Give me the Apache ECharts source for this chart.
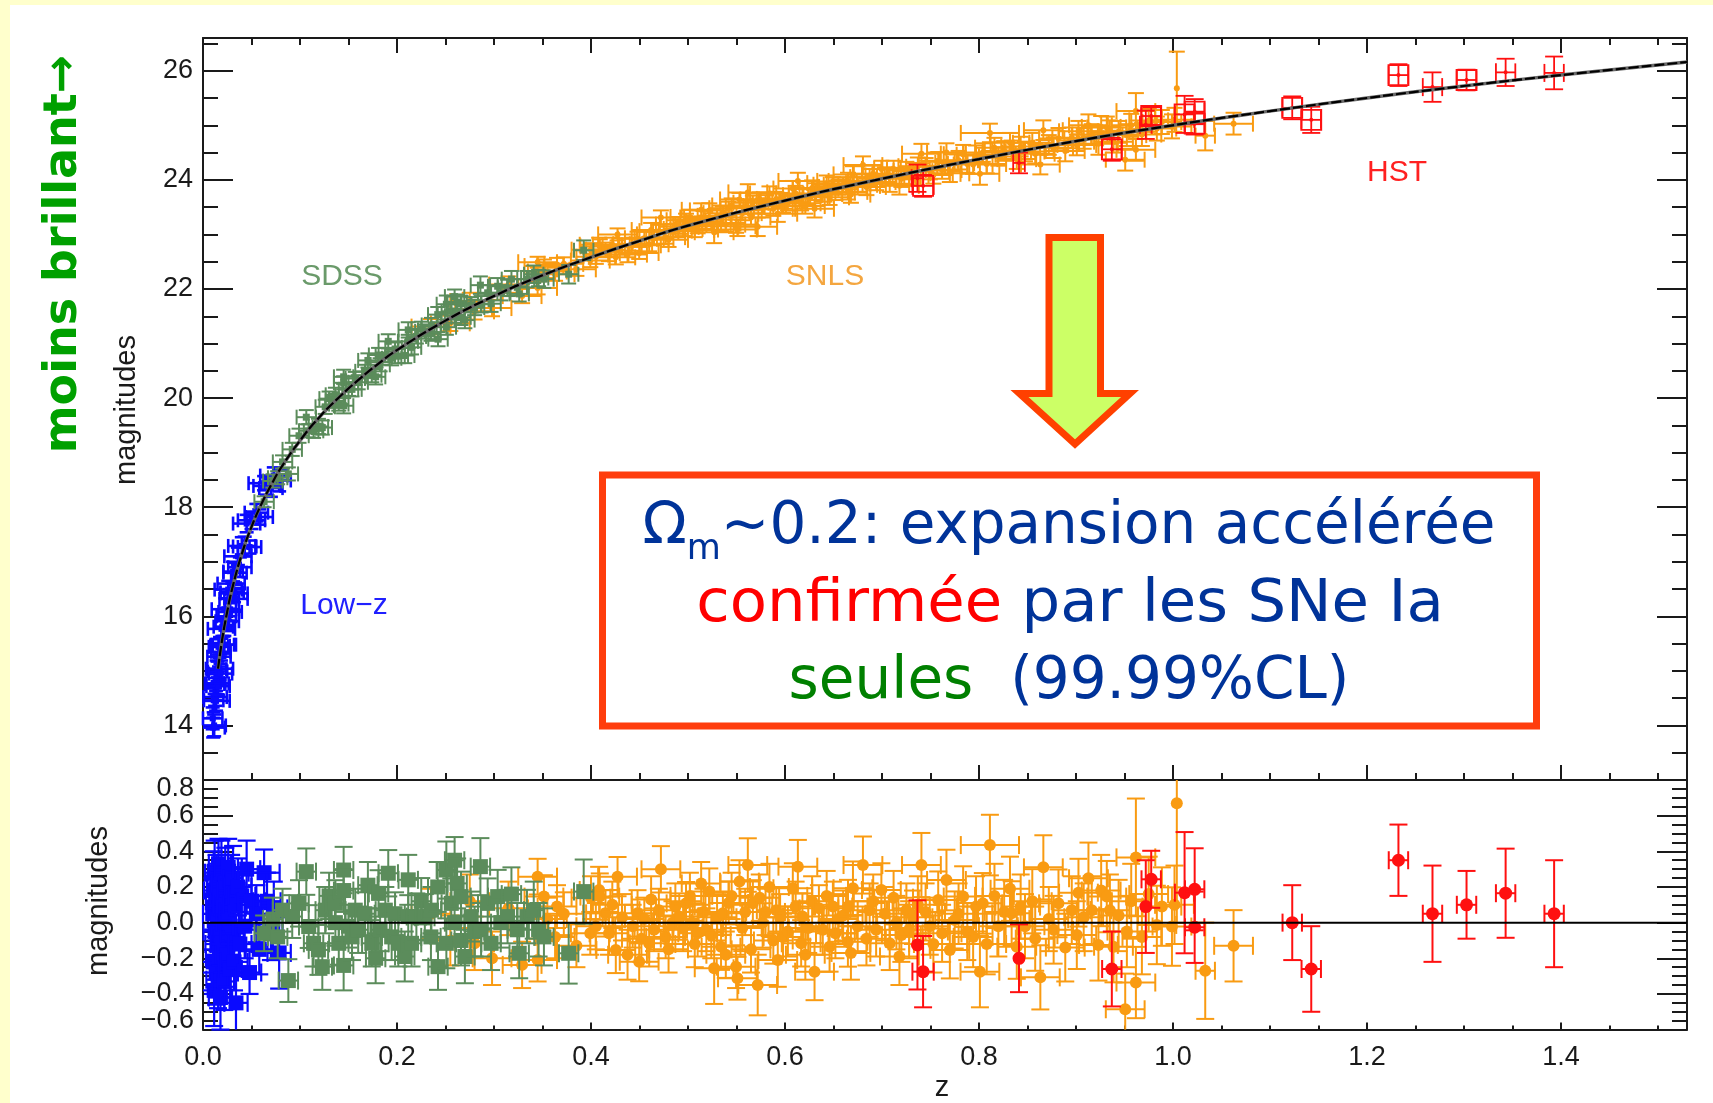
<!DOCTYPE html>
<html><head><meta charset="utf-8">
<script src="https://cdn.jsdelivr.net/npm/echarts@6/dist/echarts.min.js"></script>
<style>html,body{margin:0;padding:0;background:#fff;overflow:hidden}#c{width:1713px;height:1103px}</style>
</head><body><div id="c"></div>
<script>
// ---------------- DATA ----------------
// tick values
const xMajor = [0, 0.2, 0.4, 0.6, 0.8, 1.0, 1.2, 1.4];
const xMinor = [0.05,0.1,0.15,0.25,0.3,0.35,0.45,0.5,0.55,0.65,0.7,0.75,0.85,0.9,0.95,1.05,1.1,1.15,1.25,1.3,1.35,1.45,1.5];
const yMajorTop = [14, 16, 18, 20, 22, 24, 26];
const yMinorTop = [13.5,14.5,15,15.5,16.5,17,17.5,18.5,19,19.5,20.5,21,21.5,22.5,23,23.5,24.5,25,25.5,26.5];
const yMajorRes = [-0.6, -0.4, -0.2, 0, 0.2, 0.4, 0.6, 0.8];
const yLabelRes = [-0.4, -0.2, 0, 0.2, 0.4, 0.6];
const yEdgeLabelRes = [-0.6, 0.8];
const yMinorRes = [-0.55,-0.5,-0.45,-0.35,-0.3,-0.25,-0.15,-0.1,-0.05,0.05,0.1,0.15,0.25,0.3,0.35,0.45,0.5,0.55,0.65,0.7,0.75];

// model curve (z, magnitude)
const curveZ = [0.0155,0.02,0.025,0.03,0.04,0.05,0.06,0.07,0.08,0.1,0.12,0.14,0.16,0.18,0.2,0.25,0.3,0.35,0.4,0.45,0.5,0.6,0.7,0.8,0.9,1.0,1.1,1.2,1.3,1.4,1.53];
const curveM = [15.04,15.60,16.09,16.50,17.14,17.64,18.05,18.40,18.71,19.22,19.65,20.01,20.33,20.62,20.88,21.42,21.87,22.25,22.58,22.88,23.16,23.62,24.02,24.38,24.71,25.00,25.26,25.50,25.72,25.92,26.16];
const zeroLine = [[0, 0], [1.53, 0]];

// each point: [z, magnitude, residual, magnitude error, z error]
const lowz = [
[0.0100,14.13,0.05,0.20,0.010],[0.0105,13.96,-0.22,0.18,0.012],[0.0110,14.46,0.18,0.22,0.010],[0.0115,14.00,-0.38,0.20,0.012],
[0.0120,14.76,0.28,0.18,0.010],[0.0125,14.52,-0.05,0.16,0.012],[0.0130,14.77,0.12,0.20,0.010],[0.0135,14.45,-0.28,0.18,0.014],
[0.0140,15.03,0.22,0.16,0.010],[0.0145,14.77,-0.12,0.20,0.012],[0.0150,14.99,0.02,0.18,0.010],[0.0155,14.72,-0.32,0.16,0.012],
[0.0160,15.44,0.33,0.14,0.010],[0.0165,15.26,0.08,0.18,0.012],[0.0170,15.04,-0.20,0.20,0.014],[0.0175,15.46,0.15,0.16,0.010],
[0.0180,14.95,-0.42,0.18,0.012],[0.0185,15.35,-0.08,0.16,0.010],[0.0190,15.77,0.28,0.18,0.014],[0.0200,15.48,-0.12,0.16,0.012],
[0.0210,15.81,0.10,0.18,0.010],[0.0220,15.48,-0.33,0.16,0.012],[0.0230,16.13,0.22,0.20,0.014],[0.0240,16.00,0.00,0.16,0.010],
[0.0250,15.91,-0.18,0.18,0.012],[0.0260,16.49,0.31,0.16,0.014],[0.0270,16.32,0.06,0.18,0.010],[0.0280,16.08,-0.26,0.16,0.012],
[0.0290,16.60,0.18,0.20,0.014],[0.0300,16.44,-0.06,0.16,0.012],[0.0310,16.82,0.25,0.18,0.010],[0.0320,16.42,-0.22,0.16,0.014],
[0.0330,16.80,0.10,0.18,0.012],[0.0340,16.32,-0.45,0.20,0.012],[0.0360,17.10,0.20,0.16,0.014],[0.0380,16.90,-0.12,0.18,0.012],
[0.0400,17.29,0.15,0.16,0.014],[0.0430,17.28,-0.02,0.18,0.012],[0.0450,17.70,0.30,0.16,0.014],[0.0480,17.27,-0.28,0.12,0.012],
[0.0500,17.76,0.12,0.16,0.014],[0.0550,17.90,0.05,0.16,0.012],[0.0580,17.82,-0.15,0.14,0.014],[0.0630,18.44,0.28,0.13,0.016],
[0.0660,18.39,0.12,0.16,0.014],[0.0700,18.35,-0.05,0.16,0.012],[0.0730,18.58,0.08,0.15,0.014],[0.0785,18.49,-0.17,0.20,0.012]
];

const sdss = [
[0.063,18.10,-0.06,0.10,0.010],[0.072,18.48,0.02,0.12,0.010],[0.077,18.54,-0.08,0.12,0.010],[0.082,18.83,0.07,0.12,0.010],
[0.088,18.61,-0.325,0.12,0.010],[0.092,19.06,0.034,0.12,0.010],[0.099,19.31,0.108,0.13,0.010],[0.1065,19.65,0.286,0.13,0.010],
[0.109,19.40,-0.022,0.12,0.010],[0.114,19.40,-0.116,0.13,0.010],[0.119,19.48,-0.153,0.14,0.010],[0.123,19.46,-0.247,0.13,0.010],
[0.126,19.84,0.07,0.13,0.010],[0.130,19.99,0.15,0.13,0.010],[0.1365,19.95,0.0,0.13,0.010],[0.1365,20.06,0.108,0.13,0.010],
[0.140,19.89,-0.116,0.12,0.010],[0.145,20.39,0.295,0.13,0.010],[0.145,20.28,0.18,0.12,0.010],[0.145,19.86,-0.24,0.14,0.010],
[0.150,20.16,-0.02,0.12,0.010],[0.1536,20.16,-0.08,0.13,0.010],[0.157,20.36,0.07,0.12,0.010],[0.160,20.29,-0.04,0.13,0.010],
[0.167,20.49,0.05,0.12,0.010],[0.170,20.69,0.21,0.13,0.010],[0.174,20.42,-0.116,0.13,0.010],[0.178,20.39,-0.20,0.14,0.010],
[0.181,20.79,0.164,0.13,0.010],[0.1826,20.61,-0.04,0.12,0.010],[0.188,20.79,0.07,0.13,0.010],[0.191,21.04,0.277,0.13,0.010],
[0.1945,20.73,-0.08,0.13,0.010],[0.198,20.90,0.05,0.12,0.010],[0.2014,20.77,-0.116,0.13,0.010],[0.208,20.78,-0.19,0.14,0.010],
[0.2116,21.25,0.24,0.14,0.010],[0.2116,21.04,0.034,0.12,0.010],[0.215,20.93,-0.116,0.13,0.010],[0.220,21.13,0.034,0.13,0.010],
[0.225,21.27,0.12,0.13,0.010],[0.2287,21.22,0.03,0.13,0.010],[0.235,21.18,-0.08,0.13,0.010],[0.2355,21.34,0.07,0.13,0.010],
[0.242,21.53,0.20,0.14,0.010],[0.2423,21.08,-0.247,0.13,0.010],[0.2509,21.72,0.295,0.16,0.010],[0.2509,21.30,-0.116,0.14,0.010],
[0.256,21.59,0.108,0.14,0.010],[0.2594,21.86,0.35,0.13,0.010],[0.2594,21.51,0.0,0.13,0.010],[0.262,21.76,0.22,0.14,0.010],
[0.266,21.73,0.146,0.14,0.010],[0.266,21.48,-0.10,0.14,0.010],[0.270,21.43,-0.19,0.15,0.010],[0.2765,21.71,0.034,0.14,0.010],
[0.280,21.66,-0.05,0.14,0.010],[0.286,22.07,0.314,0.16,0.010],[0.2867,21.72,-0.04,0.15,0.010],[0.2935,21.93,0.108,0.14,0.010],
[0.297,21.73,-0.116,0.15,0.010],[0.3038,22.05,0.146,0.15,0.010],[0.307,21.93,0.0,0.14,0.010],[0.314,22.02,0.034,0.15,0.010],
[0.318,22.18,0.16,0.15,0.010],[0.324,22.03,-0.04,0.15,0.010],[0.326,21.91,-0.172,0.14,0.010],[0.334,22.18,0.034,0.15,0.010],
[0.341,22.27,0.07,0.16,0.010],[0.346,22.20,-0.04,0.15,0.010],[0.3515,22.18,-0.08,0.16,0.010],[0.377,22.27,-0.172,0.17,0.010],
[0.3925,22.71,0.174,0.18,0.010]
];

const snls = [
[0.235,21.31,0.05,0.14,0.020],[0.255,21.37,-0.10,0.14,0.020],[0.275,21.78,0.12,0.15,0.020],[0.280,21.59,-0.116,0.15,0.020],
[0.298,21.65,-0.20,0.15,0.020],[0.315,22.08,0.08,0.15,0.020],[0.329,21.87,-0.237,0.13,0.020],[0.345,22.49,0.258,0.10,0.020],
[0.345,22.02,-0.21,0.12,0.020],[0.3515,22.42,0.146,0.12,0.020],[0.355,22.32,0.02,0.12,0.020],[0.363,22.27,-0.08,0.12,0.020],
[0.365,22.45,0.09,0.12,0.020],[0.372,22.46,0.05,0.12,0.020],[0.385,22.36,-0.13,0.12,0.020],[0.3993,22.52,-0.06,0.12,0.020],
[0.400,22.72,0.14,0.12,0.020],[0.405,22.59,-0.02,0.13,0.020],[0.4084,22.81,0.183,0.13,0.020],[0.4091,22.78,0.146,0.13,0.020],
[0.415,22.72,0.052,0.13,0.020],[0.4186,22.63,-0.06,0.12,0.020],[0.422,22.81,0.10,0.13,0.020],[0.4256,22.58,-0.153,0.13,0.020],
[0.4274,23.00,0.258,0.11,0.020],[0.432,22.80,0.03,0.13,0.020],[0.4377,22.63,-0.18,0.14,0.020],[0.443,22.82,-0.02,0.12,0.020],
[0.448,22.92,0.052,0.13,0.020],[0.4497,22.66,-0.219,0.11,0.020],[0.452,22.80,-0.09,0.13,0.020],[0.455,22.93,0.02,0.12,0.020],
[0.460,22.82,-0.116,0.13,0.020],[0.462,23.08,0.13,0.13,0.020],[0.465,22.93,-0.04,0.12,0.020],[0.470,23.06,0.07,0.12,0.020],
[0.4721,23.31,0.299,0.13,0.020],[0.477,22.95,-0.08,0.12,0.020],[0.480,22.90,-0.15,0.13,0.020],[0.484,23.07,0.0,0.12,0.020],
[0.487,23.18,0.09,0.13,0.020],[0.491,23.14,0.034,0.13,0.020],[0.495,23.10,-0.03,0.13,0.020],[0.498,23.26,0.108,0.12,0.020],
[0.502,23.32,0.15,0.13,0.020],[0.5049,23.18,0.0,0.12,0.020],[0.507,23.08,-0.12,0.13,0.020],[0.510,23.15,-0.06,0.13,0.020],
[0.5136,23.45,0.22,0.12,0.020],[0.516,23.30,0.06,0.13,0.020],[0.519,23.22,-0.04,0.12,0.020],[0.522,23.44,0.174,0.13,0.020],
[0.524,23.21,-0.07,0.13,0.020],[0.527,23.04,-0.256,0.20,0.020],[0.530,23.34,0.03,0.13,0.020],[0.5341,23.20,-0.135,0.13,0.020],
[0.536,23.39,0.052,0.12,0.020],[0.539,23.18,-0.18,0.13,0.020],[0.542,23.48,0.11,0.12,0.020],[0.545,23.53,0.15,0.13,0.020],
[0.5496,23.15,-0.247,0.12,0.020],[0.551,23.09,-0.312,0.12,0.020],[0.5531,23.64,0.23,0.12,0.020],[0.556,23.39,-0.03,0.13,0.020],
[0.559,23.50,0.06,0.13,0.020],[0.5617,23.77,0.323,0.15,0.020],[0.565,23.31,-0.15,0.13,0.020],[0.5669,23.58,0.108,0.13,0.020],
[0.5719,23.14,-0.35,0.17,0.020],[0.574,23.64,0.14,0.13,0.020],[0.577,23.52,0.0,0.14,0.020],[0.580,23.59,0.06,0.13,0.020],
[0.584,23.75,0.20,0.13,0.020],[0.588,23.47,-0.10,0.13,0.020],[0.591,23.65,0.07,0.13,0.020],[0.5926,23.38,-0.21,0.15,0.020],
[0.595,23.63,0.03,0.13,0.020],[0.598,23.53,-0.08,0.13,0.020],[0.603,23.58,-0.05,0.14,0.020],[0.6081,23.84,0.193,0.14,0.020],
[0.611,23.75,0.09,0.14,0.020],[0.6133,23.98,0.314,0.15,0.020],[0.6167,23.57,-0.116,0.13,0.020],[0.618,23.72,0.034,0.13,0.020],
[0.621,23.52,-0.18,0.14,0.020],[0.624,23.69,-0.03,0.14,0.020],[0.628,23.85,0.12,0.14,0.020],[0.6305,23.47,-0.275,0.16,0.020],
[0.635,23.84,0.08,0.13,0.020],[0.639,23.74,-0.04,0.14,0.020],[0.643,23.94,0.15,0.14,0.020],[0.646,23.68,-0.135,0.14,0.020],
[0.6494,23.91,0.09,0.14,0.020],[0.652,23.77,-0.06,0.14,0.020],[0.655,23.87,0.02,0.14,0.020],[0.660,23.91,0.04,0.14,0.020],
[0.6649,23.78,-0.107,0.14,0.020],[0.665,23.98,0.09,0.15,0.020],[0.668,23.73,-0.17,0.15,0.020],[0.6701,24.10,0.193,0.15,0.020],
[0.675,23.91,-0.02,0.14,0.020],[0.6804,24.27,0.323,0.16,0.020],[0.684,23.87,-0.09,0.15,0.020],[0.6873,24.05,0.07,0.15,0.020],
[0.691,24.11,0.12,0.15,0.020],[0.694,23.96,-0.04,0.15,0.020],[0.6994,24.20,0.183,0.15,0.020],[0.703,24.08,0.05,0.15,0.020],
[0.708,23.93,-0.116,0.15,0.020],[0.712,24.20,0.14,0.15,0.020],[0.7149,24.07,0.0,0.15,0.020],[0.718,23.89,-0.19,0.16,0.020],
[0.720,24.02,-0.07,0.15,0.020],[0.7252,24.18,0.07,0.15,0.020],[0.728,24.08,-0.04,0.16,0.020],[0.732,24.16,0.03,0.15,0.020],
[0.737,24.25,0.10,0.16,0.020],[0.7407,24.48,0.323,0.18,0.020],[0.745,24.24,0.06,0.16,0.020],[0.7493,24.17,-0.02,0.16,0.020],
[0.753,24.09,-0.12,0.16,0.020],[0.758,24.35,0.127,0.16,0.020],[0.762,24.18,-0.06,0.16,0.020],[0.7665,24.50,0.239,0.17,0.020],
[0.770,24.12,-0.153,0.16,0.020],[0.775,24.31,0.015,0.16,0.020],[0.779,24.36,0.05,0.17,0.020],[0.7837,24.47,0.146,0.17,0.020],
[0.788,24.29,-0.05,0.16,0.020],[0.794,24.28,-0.08,0.17,0.020],[0.797,24.46,0.09,0.17,0.020],[0.801,24.11,-0.275,0.20,0.020],
[0.804,24.50,0.108,0.17,0.020],[0.808,24.29,-0.12,0.17,0.020],[0.8113,24.86,0.435,0.17,0.030],[0.816,24.59,0.15,0.18,0.020],
[0.820,24.43,-0.02,0.17,0.020],[0.826,24.53,0.06,0.18,0.020],[0.832,24.68,0.19,0.18,0.020],[0.8337,24.54,0.052,0.18,0.020],
[0.839,24.38,-0.135,0.18,0.020],[0.843,24.61,0.09,0.18,0.020],[0.8475,24.52,-0.02,0.18,0.020],[0.855,24.68,0.12,0.18,0.020],
[0.858,24.48,-0.09,0.18,0.020],[0.8633,24.28,-0.307,0.18,0.020],[0.8664,24.91,0.31,0.18,0.020],[0.872,24.64,0.02,0.18,0.020],
[0.877,24.59,-0.04,0.19,0.020],[0.882,24.76,0.108,0.19,0.020],[0.889,24.53,-0.14,0.19,0.020],[0.8957,24.77,0.07,0.19,0.020],
[0.9009,24.64,-0.07,0.19,0.020],[0.9026,24.89,0.168,0.19,0.020],[0.908,24.76,0.03,0.19,0.020],[0.9129,25.00,0.249,0.20,0.020],
[0.9163,24.83,0.07,0.19,0.020],[0.9232,24.66,-0.125,0.20,0.020],[0.926,24.97,0.18,0.20,0.020],[0.9318,24.96,0.146,0.20,0.020],
[0.935,24.89,0.07,0.20,0.020],[0.9387,24.70,-0.135,0.20,0.020],[0.944,24.88,0.04,0.20,0.020],[0.9508,24.37,-0.486,0.20,0.020],
[0.9525,24.82,-0.05,0.20,0.020],[0.957,25.00,0.12,0.21,0.020],[0.9618,25.26,0.366,0.33,0.020],[0.9618,24.55,-0.336,0.20,0.020],
[0.968,24.83,-0.08,0.21,0.020],[0.975,25.09,0.16,0.21,0.020],[0.9834,24.94,-0.013,0.22,0.020],[0.9886,25.06,0.09,0.22,0.020],
[0.999,24.98,-0.022,0.22,0.020],[1.0016,25.10,0.10,0.22,0.020],[1.004,25.68,0.669,0.67,0.005],[1.0333,24.81,-0.27,0.27,0.010],
[1.0625,25.03,-0.13,0.20,0.020]
];

// HST points drawn with an open box in the Hubble diagram
const hstBoxed = [
[0.7424,23.89,-0.275,0.20,0.011],[0.937,24.56,-0.26,0.21,0.010],[0.9776,25.17,0.243,0.16,0.010],[1.012,25.20,0.168,0.34,0.010],
[1.0224,25.25,0.187,0.23,0.010],[1.0224,25.03,-0.026,0.20,0.010],[1.123,25.32,0.0,0.21,0.010],[1.1426,25.10,-0.26,0.24,0.010],
[1.2325,25.92,0.35,0.20,0.010],[1.3027,25.83,0.10,0.19,0.010]
];
// HST points without a box
const hstPlain = [
[0.7366,24.03,-0.125,0.25,0.006],[0.8413,24.31,-0.20,0.19,0.006],[0.972,25.01,0.09,0.26,0.006],
[1.2676,25.70,0.05,0.27,0.010],[1.343,25.97,0.165,0.25,0.010],[1.393,25.96,0.05,0.30,0.010]
];

// ---------------- CHART ----------------
const AX = '#1a1a1a';
const FONT = 'Liberation Sans';
const C_BLUE = '#0a0aff', C_GREEN = '#5b8c5b', C_ORANGE = '#f99b12', C_RED = '#ff1010';

function errItem(cfg) {
  return function (params, api) {
    const cs = params.coordSys;
    const X0 = cs.x, X1 = cs.x + cs.width, Y0 = cs.y, Y1 = cs.y + cs.height;
    const zv = api.value(0), mv = api.value(1), ey = api.value(2), ex = api.value(3);
    const p = api.coord([zv, mv]);
    const yt = api.coord([zv, mv + ey])[1];
    const yb = api.coord([zv, mv - ey])[1];
    const xl = api.coord([zv - ex, mv])[0];
    const xr = api.coord([zv + ex, mv])[0];
    const cl = (v, a, b) => Math.max(a, Math.min(b, v));
    const st = { stroke: cfg.color, lineWidth: cfg.lw, fill: null };
    const h = cfg.cap / 2;
    const kids = [];
    kids.push({ type: 'line', shape: { x1: p[0], y1: cl(yt, Y0, Y1), x2: p[0], y2: cl(yb, Y0, Y1) }, style: st });
    if (yt >= Y0) kids.push({ type: 'line', shape: { x1: p[0] - h, y1: yt, x2: p[0] + h, y2: yt }, style: st });
    if (yb <= Y1) kids.push({ type: 'line', shape: { x1: p[0] - h, y1: yb, x2: p[0] + h, y2: yb }, style: st });
    const half = (xr - xl) / 2;
    if (half > cfg.size / 2 + 2) {
      kids.push({ type: 'line', shape: { x1: cl(xl, X0, X1), y1: p[1], x2: cl(xr, X0, X1), y2: p[1] }, style: st });
      if (xl >= X0) kids.push({ type: 'line', shape: { x1: xl, y1: p[1] - h, x2: xl, y2: p[1] + h }, style: st });
      if (xr <= X1) kids.push({ type: 'line', shape: { x1: xr, y1: p[1] - h, x2: xr, y2: p[1] + h }, style: st });
    }
    if (cfg.box) {
      kids.push({ type: 'rect', shape: { x: p[0] - cfg.box / 2, y: p[1] - cfg.box / 2, width: cfg.box, height: cfg.box },
        style: { stroke: cfg.color, lineWidth: cfg.lw, fill: null } });
    }
    const s = cfg.size;
    if (cfg.shape === 'square') {
      kids.push({ type: 'rect', shape: { x: p[0] - s / 2, y: p[1] - s / 2, width: s, height: s }, style: { fill: cfg.color } });
    } else {
      kids.push({ type: 'circle', shape: { cx: p[0], cy: p[1], r: s / 2 }, style: { fill: cfg.color } });
    }
    return { type: 'group', children: kids };
  };
}
function errSeries(data, xi, yi, cfg, z) {
  return { type: 'custom', xAxisIndex: xi, yAxisIndex: yi, data: data, z: z, silent: true,
    renderItem: errItem(cfg) };
}
const upper = arr => arr.map(d => [d[0], d[1], d[3], d[4]]);
const lower = arr => arr.map(d => [d[0], d[2], d[3], d[4]]);

function axis(gridIndex, position, min, max, ticks, len, extra) {
  return Object.assign({
    type: 'value', gridIndex: gridIndex, position: position, min: min, max: max,
    axisLine: { show: false, onZero: false },
    axisTick: { show: true, inside: true, length: len, customValues: ticks, lineStyle: { color: AX, width: 2 } },
    axisLabel: { show: false },
    splitLine: { show: false }
  }, extra || {});
}
const line = { show: true, onZero: false, lineStyle: { color: AX, width: 2 } };
const lab = (vals, margin, fmt, more) => Object.assign({ show: true, customValues: vals, margin: margin, fontSize: 27,
  fontFamily: FONT, color: '#1a1a1a', formatter: fmt, showMinLabel: true, showMaxLabel: true, hideOverlap: false }, more || {});
const resFmt = v => (Math.abs(v) < 1e-9 ? '0.0' : Number(v).toFixed(1).replace('-', '\u2212'));

const option = {
  animation: false,
  backgroundColor: '#ffffff',
  grid: [
    { left: 203, top: 38, width: 1484, height: 742, outerBoundsMode: 'none', containLabel: false },
    { left: 203, top: 780, width: 1484, height: 249.6, outerBoundsMode: 'none', containLabel: false }
  ],
  xAxis: [
    axis(0, 'bottom', 0, 1.53, xMajor, 15, { axisLine: line }),
    axis(0, 'top', 0, 1.53, xMajor, 15, { axisLine: line }),
    axis(0, 'bottom', 0, 1.53, xMinor, 7),
    axis(0, 'top', 0, 1.53, xMinor, 7),
    axis(1, 'bottom', 0, 1.53, xMajor, 7, { axisLine: line, axisLabel: lab(xMajor, 14, v => Number(v).toFixed(1)) }),
    axis(1, 'bottom', 0, 1.53, xMinor, 4)
  ],
  yAxis: [
    axis(0, 'left', 13, 26.6, yMajorTop, 30, { axisLine: line, axisLabel: lab(yMajorTop, 10, v => String(Math.round(v))) }),
    axis(0, 'left', 13, 26.6, yMinorTop, 15),
    axis(0, 'right', 13, 26.6, yMajorTop, 30, { axisLine: line }),
    axis(0, 'right', 13, 26.6, yMinorTop, 15),
    axis(1, 'left', -0.6, 0.8, yMajorRes, 30, { axisLine: line, axisLabel: lab(yLabelRes, 9, resFmt) }),
    axis(1, 'left', -0.6, 0.8, yMinorRes, 15),
    axis(1, 'right', -0.6, 0.8, yMajorRes, 30, { axisLine: line }),
    axis(1, 'right', -0.6, 0.8, yMinorRes, 15),
    axis(1, 'left', -0.6, 0.8, yEdgeLabelRes, 0, { axisTick: { show: false },
      axisLabel: lab(yEdgeLabelRes, 9, resFmt, { lineHeight: 18, verticalAlignMinLabel: 'bottom', verticalAlignMaxLabel: 'top' }) })
  ],
  series: [
    // Hubble diagram
    errSeries(upper(snls), 0, 0, { color: C_ORANGE, lw: 2, cap: 16, shape: 'circle', size: 6 }, 2),
    errSeries(upper(lowz), 0, 0, { color: C_BLUE, lw: 2.6, cap: 14, shape: 'square', size: 6 }, 3),
    errSeries(upper(sdss), 0, 0, { color: C_GREEN, lw: 2, cap: 15, shape: 'square', size: 7 }, 4),
    errSeries(upper(hstBoxed), 0, 0, { color: C_RED, lw: 1.8, cap: 18, shape: 'circle', size: 4, box: 20 }, 5),
    errSeries(upper(hstPlain), 0, 0, { color: C_RED, lw: 1.8, cap: 18, shape: 'circle', size: 4 }, 5),
    { type: 'line', xAxisIndex: 0, yAxisIndex: 0, data: curveZ.map((z, i) => [z, curveM[i]]), smooth: true,
      showSymbol: false, silent: true, z: 8, lineStyle: { color: '#6a6a6a', width: 3.5 } },
    { type: 'line', xAxisIndex: 0, yAxisIndex: 0, data: curveZ.map((z, i) => [z, curveM[i]]), smooth: true,
      showSymbol: false, silent: true, z: 9, lineStyle: { color: '#000', width: 2.2, type: [10, 3] } },
    // residuals
    errSeries(lower(snls), 4, 4, { color: C_ORANGE, lw: 2, cap: 18, shape: 'circle', size: 12 }, 2),
    errSeries(lower(lowz), 4, 4, { color: C_BLUE, lw: 2.2, cap: 18, shape: 'square', size: 15 }, 3),
    errSeries(lower(sdss), 4, 4, { color: C_GREEN, lw: 2, cap: 18, shape: 'square', size: 15 }, 4),
    errSeries(lower(hstBoxed.concat(hstPlain)), 4, 4, { color: C_RED, lw: 2, cap: 18, shape: 'circle', size: 13 }, 5),
    { type: 'line', xAxisIndex: 4, yAxisIndex: 4, data: zeroLine, showSymbol: false, silent: true, z: 9,
      lineStyle: { color: '#000', width: 2 } }
  ],
  graphic: [
    { type: 'rect', z: 0, shape: { x: 0, y: 0, width: 1713, height: 5 }, style: { fill: '#ffffcc' } },
    { type: 'rect', z: 0, shape: { x: 0, y: 0, width: 10, height: 1103 }, style: { fill: '#ffffcc' } },
    { type: 'text', x: 342, y: 277, style: { text: 'SDSS', fill: '#6a9a6a', fontSize: 30, fontFamily: FONT, align: 'center', verticalAlign: 'middle' } },
    { type: 'text', x: 825, y: 277, style: { text: 'SNLS', fill: '#f4a640', fontSize: 30, fontFamily: FONT, align: 'center', verticalAlign: 'middle' } },
    { type: 'text', x: 1397, y: 173, style: { text: 'HST', fill: '#ff2020', fontSize: 30, fontFamily: FONT, align: 'center', verticalAlign: 'middle' } },
    { type: 'text', x: 344, y: 606, style: { text: 'Low\u2212z', fill: '#2020ff', fontSize: 30, fontFamily: FONT, align: 'center', verticalAlign: 'middle' } },
    { type: 'text', x: 127, y: 410, rotation: Math.PI / 2, style: { text: 'magnitudes', fill: '#1a1a1a', fontSize: 29, fontFamily: FONT, align: 'center', verticalAlign: 'middle' } },
    { type: 'text', x: 99, y: 901, rotation: Math.PI / 2, style: { text: 'magnitudes', fill: '#1a1a1a', fontSize: 29, fontFamily: FONT, align: 'center', verticalAlign: 'middle' } },
    { type: 'text', x: 942, y: 1088, style: { text: 'z', fill: '#1a1a1a', fontSize: 29, fontFamily: FONT, align: 'center', verticalAlign: 'middle' } },
    { type: 'text', x: 64, y: 254, rotation: Math.PI / 2, style: { text: 'moins brillant\u2192', fill: '#00a000', fontSize: 46, fontWeight: 'bold', fontFamily: 'DejaVu Sans', align: 'center', verticalAlign: 'middle' } },
    { type: 'polygon', z: 10, shape: { points: [[1049, 237.5], [1100.5, 237.5], [1100.5, 393.5], [1130, 393.5], [1075, 444], [1019.5, 393.5], [1049, 393.5]] },
      style: { fill: '#ccff66', stroke: '#ff4000', lineWidth: 7, lineJoin: 'miter' } },
    { type: 'rect', z: 10, shape: { x: 602.5, y: 475, width: 934, height: 251 }, style: { fill: '#ffffff', stroke: '#ff3d0d', lineWidth: 7 } },
    { type: 'text', z: 11, x: 1069, y: 498.8, style: {
        text: '{b|\u03a9}{s|m}{b|~0.2: expansion acc\u00e9l\u00e9r\u00e9e}', align: 'center', verticalAlign: 'top',
        rich: {
          b: { fill: '#003399', fontSize: 58, fontFamily: 'DejaVu Sans', lineHeight: 58, verticalAlign: 'top' },
          s: { fill: '#003399', fontSize: 35, fontFamily: 'DejaVu Sans', lineHeight: 35, verticalAlign: 'top', padding: [34, 0, 0, 0] }
        } } },
    { type: 'text', z: 11, x: 1070, y: 576.8, scaleX: 1.05, style: {
        text: '{r|confirm\u00e9e}{b| par les SNe Ia}', align: 'center', verticalAlign: 'top',
        rich: {
          r: { fill: '#ff0000', fontSize: 58, fontFamily: 'DejaVu Sans', lineHeight: 58, verticalAlign: 'top' },
          b: { fill: '#003399', fontSize: 58, fontFamily: 'DejaVu Sans', lineHeight: 58, verticalAlign: 'top' }
        } } },
    { type: 'text', z: 11, x: 1069, y: 653.8, style: {
        text: '{g|seules}{b|  (99.99%CL)}', align: 'center', verticalAlign: 'top',
        rich: {
          g: { fill: '#008000', fontSize: 58, fontFamily: 'DejaVu Sans', lineHeight: 58, verticalAlign: 'top' },
          b: { fill: '#003399', fontSize: 58, fontFamily: 'DejaVu Sans', lineHeight: 58, verticalAlign: 'top' }
        } } }
  ]
};
const chart = echarts.init(document.getElementById('c'), null, { renderer: 'canvas', width: 1713, height: 1103 });
chart.setOption(option);
</script>
</body></html>
